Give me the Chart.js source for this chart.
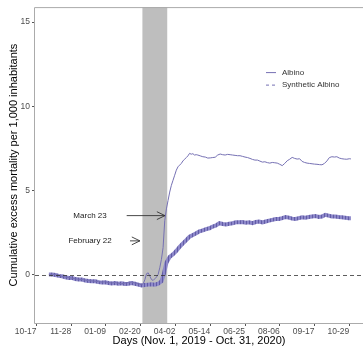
<!DOCTYPE html>
<html>
<head>
<meta charset="utf-8">
<script src="https://cdn.jsdelivr.net/npm/chart.js@4.4.1/dist/chart.umd.min.js"></script>
<style>
  html, body { margin: 0; padding: 0; background: #ffffff; }
  #wrap { width: 363px; height: 348px; }
</style>
</head>
<body>
<div id="wrap"><canvas id="chart" width="363" height="348"></canvas></div>
<script>
// Days are counted from Nov. 1, 2019 (day 0) to Oct. 31, 2020 (day 365).
const tickDays   = [-15, 27, 69, 111, 153, 195, 237, 279, 321, 363];
const tickLabels = ['10-17', '11-28', '01-09', '02-20', '04-02', '05-14', '06-25', '08-06', '09-17', '10-29'];
const yTickValues = [0, 5, 10, 15];

const albinoDays = [0, 4, 8, 12, 16, 20, 24, 28, 32, 36, 40, 44, 48, 52, 56, 60, 64, 68, 72, 76, 80, 84, 88, 92, 96, 100, 104, 108, 112,
  114, 116, 118, 120, 122, 124, 126, 128, 130, 132, 134, 136, 138, 140, 142, 144, 146, 148, 150, 152, 154, 156, 158, 160, 162, 164, 166, 168, 170,
  172, 174, 176, 178, 180, 183, 186, 189, 192, 195, 198, 201, 204, 207, 210, 213, 216, 219, 222, 225, 228, 231, 234, 237, 240, 243, 246, 249,
  252, 255, 258, 261, 264, 267, 270, 273, 276, 279, 282, 285, 288, 291, 294, 297, 300, 303, 306, 309, 312, 315, 318, 321, 324, 327, 330, 333,
  336, 339, 342, 345, 348, 351, 354, 357, 360, 363, 365];
const albinoValues = [0, 0.02, 0, -0.05, -0.1, -0.15, -0.18, -0.22, -0.25, -0.28, -0.3, -0.33, -0.36, -0.38, -0.4, -0.42, -0.45, -0.43, -0.48, -0.5, -0.47, -0.52, -0.55, -0.5, -0.47, -0.45, -0.5, -0.55, -0.6,
  -0.55, -0.3, 0.05, 0.1, -0.1, -0.3, -0.35, -0.25, -0.15, 0, 0.4, 0.9, 1.6, 3.2, 3.9, 4.4, 4.9, 5.3, 5.6, 5.9, 6.2, 6.4, 6.5, 6.6, 6.75, 6.85, 6.95, 7.05, 7.2,
  7.15, 7.18, 7.1, 7.12, 7.1, 7.05, 7.0, 6.98, 6.92, 6.93, 6.95, 6.97, 7.1, 7.16, 7.12, 7.1, 7.14, 7.12, 7.1, 7.08, 7.06, 7.06, 7.02, 6.98, 6.95, 6.9, 6.84, 6.8,
  6.8, 6.74, 6.68, 6.7, 6.65, 6.62, 6.66, 6.64, 6.62, 6.55, 6.47, 6.6, 6.76, 6.85, 6.96, 6.9, 6.86, 6.88, 6.72, 6.66, 6.62, 6.6, 6.58, 6.56, 6.55, 6.53, 6.52, 6.6,
  6.75, 6.95, 7.0, 6.98, 7.0, 6.92, 6.88, 6.86, 6.85, 6.88, 6.87];

const syntheticDays = [0, 4, 8, 12, 16, 20, 24, 28, 32, 36, 40, 44, 48, 52, 56, 60, 64, 68, 72, 76, 80, 84, 88, 92, 96, 100, 104, 108, 112,
  116, 120, 124, 128, 132, 136, 139, 142, 146, 150, 154, 158, 162, 166, 170, 174, 178, 182, 186, 190, 194, 198, 202, 206, 210, 214, 218, 222,
  226, 230, 234, 238, 242, 246, 250, 254, 258, 262, 266, 270, 274, 278, 282, 286, 290, 294, 298, 302, 306, 310, 314, 318, 322, 326, 330, 334,
  338, 342, 346, 350, 354, 358, 362, 365];
const syntheticValues = [0, 0, -0.03, -0.08, -0.1, -0.16, -0.2, -0.2, -0.27, -0.3, -0.3, -0.36, -0.38, -0.4, -0.4, -0.45, -0.48, -0.46, -0.5, -0.53, -0.5, -0.55, -0.52, -0.56, -0.55, -0.5, -0.55, -0.6, -0.65,
  -0.62, -0.6, -0.58, -0.6, -0.55, -0.4, 0.05, 0.7, 1.05, 1.2, 1.4, 1.65, 1.85, 2.05, 2.25, 2.35, 2.45, 2.57, 2.62, 2.7, 2.75, 2.85, 2.92, 3.05, 3.0, 2.98, 3.02, 3.05,
  3.1, 3.1, 3.12, 3.08, 3.1, 3.05, 3.12, 3.15, 3.1, 3.15, 3.2, 3.25, 3.3, 3.3, 3.35, 3.42, 3.38, 3.32, 3.3, 3.35, 3.4, 3.38, 3.42, 3.45, 3.48, 3.42, 3.45, 3.55,
  3.5, 3.45, 3.45, 3.42, 3.4, 3.38, 3.35, 3.35];

// Shaded period: Feb. 22 to Mar. 23, 2020
const shadedPeriod = [113, 143];

// Arrow notes (data coordinates)
const notes = [
  { text: 'March 23',    y: 3.5, textDay: 49.7, fromDay: 94, toDay: 140.3 },
  { text: 'February 22', y: 2.0, textDay: 49.7, fromDay: 98, toDay: 110 }
];

const FONT = '"Liberation Sans", Arial, Helvetica, sans-serif';
const LINE_COLOR = '#7570b3';

function toPoints(days, values) {
  return days.map((d, i) => ({ x: d, y: values[i] }));
}

// Light band with darker vertical hatching for the synthetic series
function hatchPattern() {
  const c = document.createElement('canvas');
  c.width = 3; c.height = 3;
  const g = c.getContext('2d');
  g.fillStyle = '#8d88ca';
  g.fillRect(0, 0, 3, 3);
  g.fillStyle = '#625ca6';
  g.fillRect(0, 0, 1, 3);
  return g.createPattern(c, 'repeat');
}

function drawArrow(ctx, x0, y0, x1, y1) {
  const ang = Math.atan2(y1 - y0, x1 - x0);
  const len = 9, spread = 0.45;
  ctx.beginPath();
  ctx.moveTo(x0, y0);
  ctx.lineTo(x1, y1);
  ctx.moveTo(x1 - len * Math.cos(ang - spread), y1 - len * Math.sin(ang - spread));
  ctx.lineTo(x1, y1);
  ctx.lineTo(x1 - len * Math.cos(ang + spread), y1 - len * Math.sin(ang + spread));
  ctx.stroke();
}

const panelDecor = {
  id: 'panelDecor',
  beforeDatasetsDraw(chart) {
    const { ctx, chartArea: a, scales: { x } } = chart;
    const x0 = x.getPixelForValue(shadedPeriod[0]);
    const x1 = x.getPixelForValue(shadedPeriod[1]);
    ctx.save();
    ctx.fillStyle = '#bebebe';
    ctx.fillRect(x0, a.top, x1 - x0, a.bottom - a.top);
    ctx.restore();
  },
  afterDatasetsDraw(chart) {
    const { ctx, chartArea: a, scales: { x, y } } = chart;
    ctx.save();

    // zero reference line
    const y0 = Math.round(y.getPixelForValue(0)) + 0.5;
    ctx.strokeStyle = '#333333';
    ctx.lineWidth = 0.8;
    ctx.setLineDash([4, 3]);
    ctx.beginPath();
    ctx.moveTo(a.left, y0);
    ctx.lineTo(a.right, y0);
    ctx.stroke();
    ctx.setLineDash([]);

    // panel border (top, left, bottom)
    ctx.strokeStyle = '#ababab';
    ctx.lineWidth = 1;
    ctx.beginPath();
    ctx.moveTo(a.right, a.top + 0.5);
    ctx.lineTo(a.left - 0.5, a.top + 0.5);
    ctx.lineTo(a.left - 0.5, a.bottom + 0.5);
    ctx.lineTo(a.right, a.bottom + 0.5);
    ctx.stroke();

    // arrows and notes
    ctx.strokeStyle = '#333333';
    ctx.lineWidth = 0.9;
    ctx.fillStyle = '#1a1a1a';
    ctx.font = '8px ' + FONT;
    ctx.textAlign = 'center';
    ctx.textBaseline = 'middle';
    notes.forEach(n => {
      const py = y.getPixelForValue(n.y);
      drawArrow(ctx, x.getPixelForValue(n.fromDay), py, x.getPixelForValue(n.toDay), py);
      ctx.fillText(n.text, x.getPixelForValue(n.textDay), py);
    });

    // legend inside the panel
    const lx = a.left + 231, ly = a.top + 65.5, gap = 12.5;
    ctx.font = '8px ' + FONT;
    ctx.textAlign = 'left';
    ctx.fillStyle = '#333333';
    chart.data.datasets.forEach((ds, i) => {
      const yy = ly + i * gap;
      ctx.strokeStyle = LINE_COLOR;
      ctx.lineWidth = 1;
      ctx.setLineDash(i === 1 ? [3, 3] : []);
      ctx.beginPath();
      ctx.moveTo(lx, yy);
      ctx.lineTo(lx + 10, yy);
      ctx.stroke();
      ctx.fillText(ds.label, lx + 16, yy);
    });
    ctx.restore();
  }
};

new Chart(document.getElementById('chart'), {
  type: 'line',
  data: {
    datasets: [
      {
        label: 'Albino',
        data: toPoints(albinoDays, albinoValues),
        borderColor: LINE_COLOR,
        borderWidth: 1,
        pointRadius: 0,
        tension: 0
      },
      {
        label: 'Synthetic Albino',
        data: toPoints(syntheticDays, syntheticValues),
        borderColor: hatchPattern(),
        borderWidth: 4,
        pointRadius: 0,
        tension: 0
      }
    ]
  },
  options: {
    responsive: false,
    animation: false,
    devicePixelRatio: 1,
    parsing: false,
    layout: { padding: { top: 6, right: 0, bottom: 0, left: 0 } },
    plugins: { legend: { display: false }, tooltip: { enabled: false } },
    scales: {
      x: {
        type: 'linear',
        min: -16.8,
        max: 379.6,
        afterBuildTicks: s => { s.ticks = tickDays.map(v => ({ value: v })); },
        afterFit: s => { s.height = 25; s.paddingLeft = 0; s.paddingRight = 0; },
        ticks: {
          align: 'end',
          autoSkip: false,
          maxRotation: 0,
          padding: 1,
          color: '#4d4d4d',
          font: { family: FONT, size: 8.5 },
          callback: (v, i) => tickLabels[i]
        },
        grid: { display: true, drawOnChartArea: false, drawTicks: true, tickLength: 3, color: '#555555' },
        border: { display: false },
        title: {
          display: true,
          text: 'Days (Nov. 1, 2019 - Oct. 31, 2020)',
          color: '#000000',
          font: { family: FONT, size: 11 },
          padding: { top: 0, bottom: 0 }
        }
      },
      y: {
        min: -2.88,
        max: 15.89,
        afterBuildTicks: s => { s.ticks = yTickValues.map(v => ({ value: v })); },
        afterFit: s => { s.width = 35; },
        ticks: {
          padding: 2,
          color: '#4d4d4d',
          font: { family: FONT, size: 8.5 },
          callback: v => String(v)
        },
        grid: { display: true, drawOnChartArea: false, drawTicks: true, tickLength: 3, color: '#555555' },
        border: { display: false },
        title: {
          display: true,
          text: 'Cumulative excess mortality per 1,000 inhabitants',
          color: '#000000',
          font: { family: FONT, size: 11 },
          padding: { top: 7, bottom: 0 }
        }
      }
    }
  },
  plugins: [panelDecor]
});
</script>
</body>
</html>
